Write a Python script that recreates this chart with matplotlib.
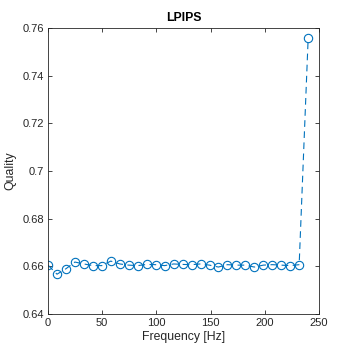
import matplotlib
matplotlib.use("Agg")
import matplotlib.pyplot as plt

freq = [0.0, 8.3, 16.6, 24.8, 33.1, 41.4, 49.7, 57.9, 66.2, 74.5,
        82.8, 91.0, 99.3, 107.6, 115.9, 124.1, 132.4, 140.7, 149.0, 157.2,
        165.5, 173.8, 182.1, 190.3, 198.6, 206.9, 215.2, 223.4, 231.7, 240.0]
quality = [0.6605, 0.6567, 0.6590, 0.6618, 0.6610, 0.6603, 0.6603, 0.6622, 0.6610, 0.6605,
           0.6603, 0.6608, 0.6607, 0.6603, 0.6610, 0.6608, 0.6607, 0.6610, 0.6605, 0.6597,
           0.6607, 0.6605, 0.6605, 0.6597, 0.6605, 0.6607, 0.6605, 0.6603, 0.6607, 0.7557]
xticks = [0, 50, 100, 150, 200, 250]
yticks = [0.64, 0.66, 0.68, 0.7, 0.72, 0.74, 0.76]
yticklabels = ["0.64", "0.66", "0.68", "0.7", "0.72", "0.74", "0.76"]

plt.rcParams['font.family'] = ['Liberation Sans', 'DejaVu Sans']
ax_col = (0.15, 0.15, 0.15)

fig = plt.figure(figsize=(3.54, 3.54), dpi=100)
ax = fig.add_axes([48/354, 1-314/354, (319-48)/354, (314-28)/354])
ax.plot(freq, quality, linestyle='--', color=(0, 0.447, 0.741), linewidth=0.8,
        marker='o', markerfacecolor='none', markeredgewidth=0.8, markersize=6,
        dashes=(6, 4))
ax.set_xlim(0, 250)
ax.set_ylim(0.64, 0.76)
ax.set_xticks(xticks)
ax.set_yticks(yticks)
ax.set_yticklabels(yticklabels)
ax.tick_params(direction='in', top=True, right=True, length=3, width=0.6,
               colors=ax_col, labelsize=8, pad=3)
for s in ax.spines.values():
    s.set_color(ax_col)
    s.set_linewidth(0.6)
ax.set_xlabel("Frequency [Hz]", fontsize=8.8, color=ax_col, labelpad=2)
ax.set_ylabel("Quality", fontsize=8.8, color=ax_col, labelpad=4)
ax.set_title("LPIPS", fontsize=8.8, fontweight='bold', color='black', pad=5)
fig.savefig("out.png", dpi=100)
